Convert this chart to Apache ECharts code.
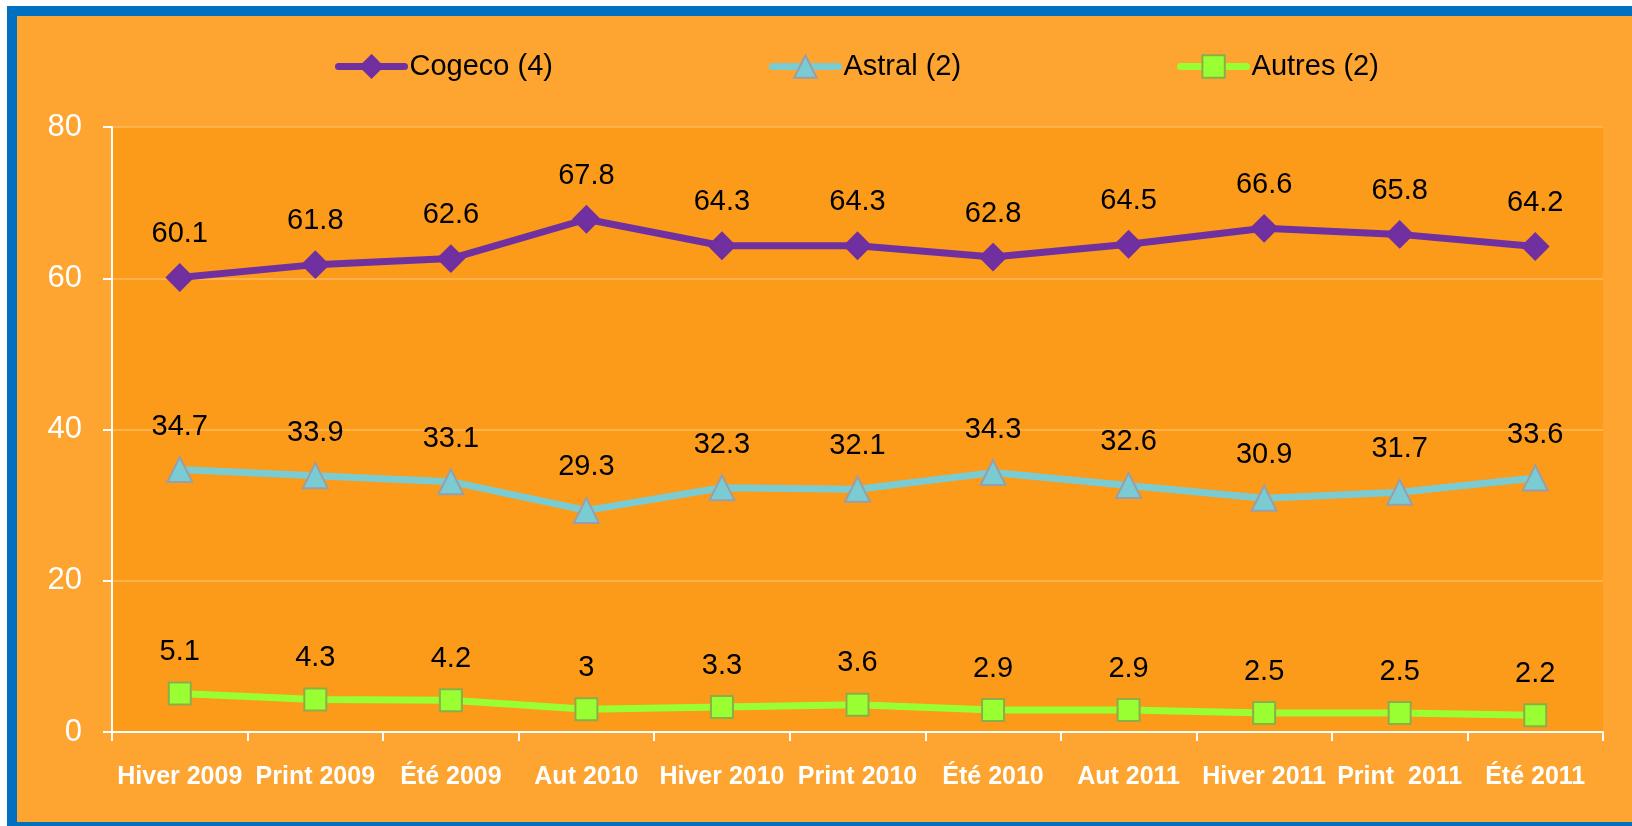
<!DOCTYPE html>
<html>
<head>
<meta charset="utf-8">
<script src="https://cdn.jsdelivr.net/npm/echarts@6/dist/echarts.min.js"></script>
<style>
  html, body { margin: 0; padding: 0; background: #fff; overflow: hidden; }
  .frame {
    position: absolute; left: 7px; top: 6px; width: 1650px; height: 826px;
    box-sizing: border-box; border: 10px solid #0070C0; background: #FDA530;
  }
  #chart { position: absolute; left: 0; top: 0; width: 1632px; height: 826px; }
</style>
</head>
<body>
<div class="frame"></div>
<div id="chart"></div>
<script>
// saisons
const categories = ['Hiver 2009', 'Print 2009', 'Été 2009', 'Aut 2010', 'Hiver 2010', 'Print 2010',
  'Été 2010', 'Aut 2011', 'Hiver 2011', 'Print  2011', 'Été 2011'];
const cogeco = [60.1, 61.8, 62.6, 67.8, 64.3, 64.3, 62.8, 64.5, 66.6, 65.8, 64.2];
const astral = [34.7, 33.9, 33.1, 29.3, 32.3, 32.1, 34.3, 32.6, 30.9, 31.7, 33.6];
const autres = [5.1, 4.3, 4.2, 3, 3.3, 3.6, 2.9, 2.9, 2.5, 2.5, 2.2];
const yTicks = [0, 20, 40, 60, 80];

const font = '"Liberation Sans", Arial, sans-serif';
const chart = echarts.init(document.getElementById('chart'));

function makeSerie(name, data, color, symbol, size, border) {
  return {
    name: name,
    type: 'line',
    data: data,
    symbol: symbol,
    symbolSize: size,
    lineStyle: { color: color, width: 7 },
    itemStyle: { color: color, borderColor: border, borderWidth: 2 },
    label: {
      show: true,
      position: 'top',
      distance: 15,
      color: '#000',
      fontFamily: font,
      fontSize: 29
    },
    animation: false
  };
}

const option = {
  backgroundColor: 'transparent',
  legend: {
    left: 330,
    top: 47,
    itemWidth: 66,
    itemHeight: 28,
    itemGap: 216,
    selectedMode: false,
    lineStyle: { width: 7, cap: 'round' },
    textStyle: { color: '#000', fontFamily: font, fontSize: 29 },
    data: ['Cogeco (4)', 'Astral (2)', 'Autres (2)']
  },
  grid: {
    left: 112,
    right: 29,
    top: 127,
    bottom: 94,
    show: true,
    backgroundColor: '#FC9A1A',
    borderWidth: 0
  },
  xAxis: {
    type: 'category',
    data: categories,
    boundaryGap: true,
    axisLine: { lineStyle: { color: '#fff', width: 2 } },
    axisTick: { show: true, length: 9, lineStyle: { color: '#fff', width: 2 } },
    axisLabel: {
      color: '#fff',
      fontFamily: font,
      fontWeight: 'bold',
      fontSize: 25,
      margin: 33,
      interval: 0
    }
  },
  yAxis: {
    type: 'value',
    min: yTicks[0],
    max: yTicks[yTicks.length - 1],
    interval: 20,
    axisLine: { show: true, lineStyle: { color: '#fff', width: 2 } },
    axisTick: { show: true, length: 9, lineStyle: { color: '#fff', width: 2 } },
    splitLine: { lineStyle: { color: '#FDB24C', width: 2 } },
    axisLabel: { color: '#fff', fontFamily: font, fontSize: 31, margin: 30 }
  },
  series: [
    makeSerie('Cogeco (4)', cogeco, '#7030A0', 'diamond', 26, '#7030A0'),
    makeSerie('Astral (2)', astral, '#7BCCD2', 'triangle', 25, '#9A9EA6'),
    makeSerie('Autres (2)', autres, '#99FF33', 'rect', 22, '#8CAF45')
  ]
};
chart.setOption(option);
</script>
</body>
</html>
